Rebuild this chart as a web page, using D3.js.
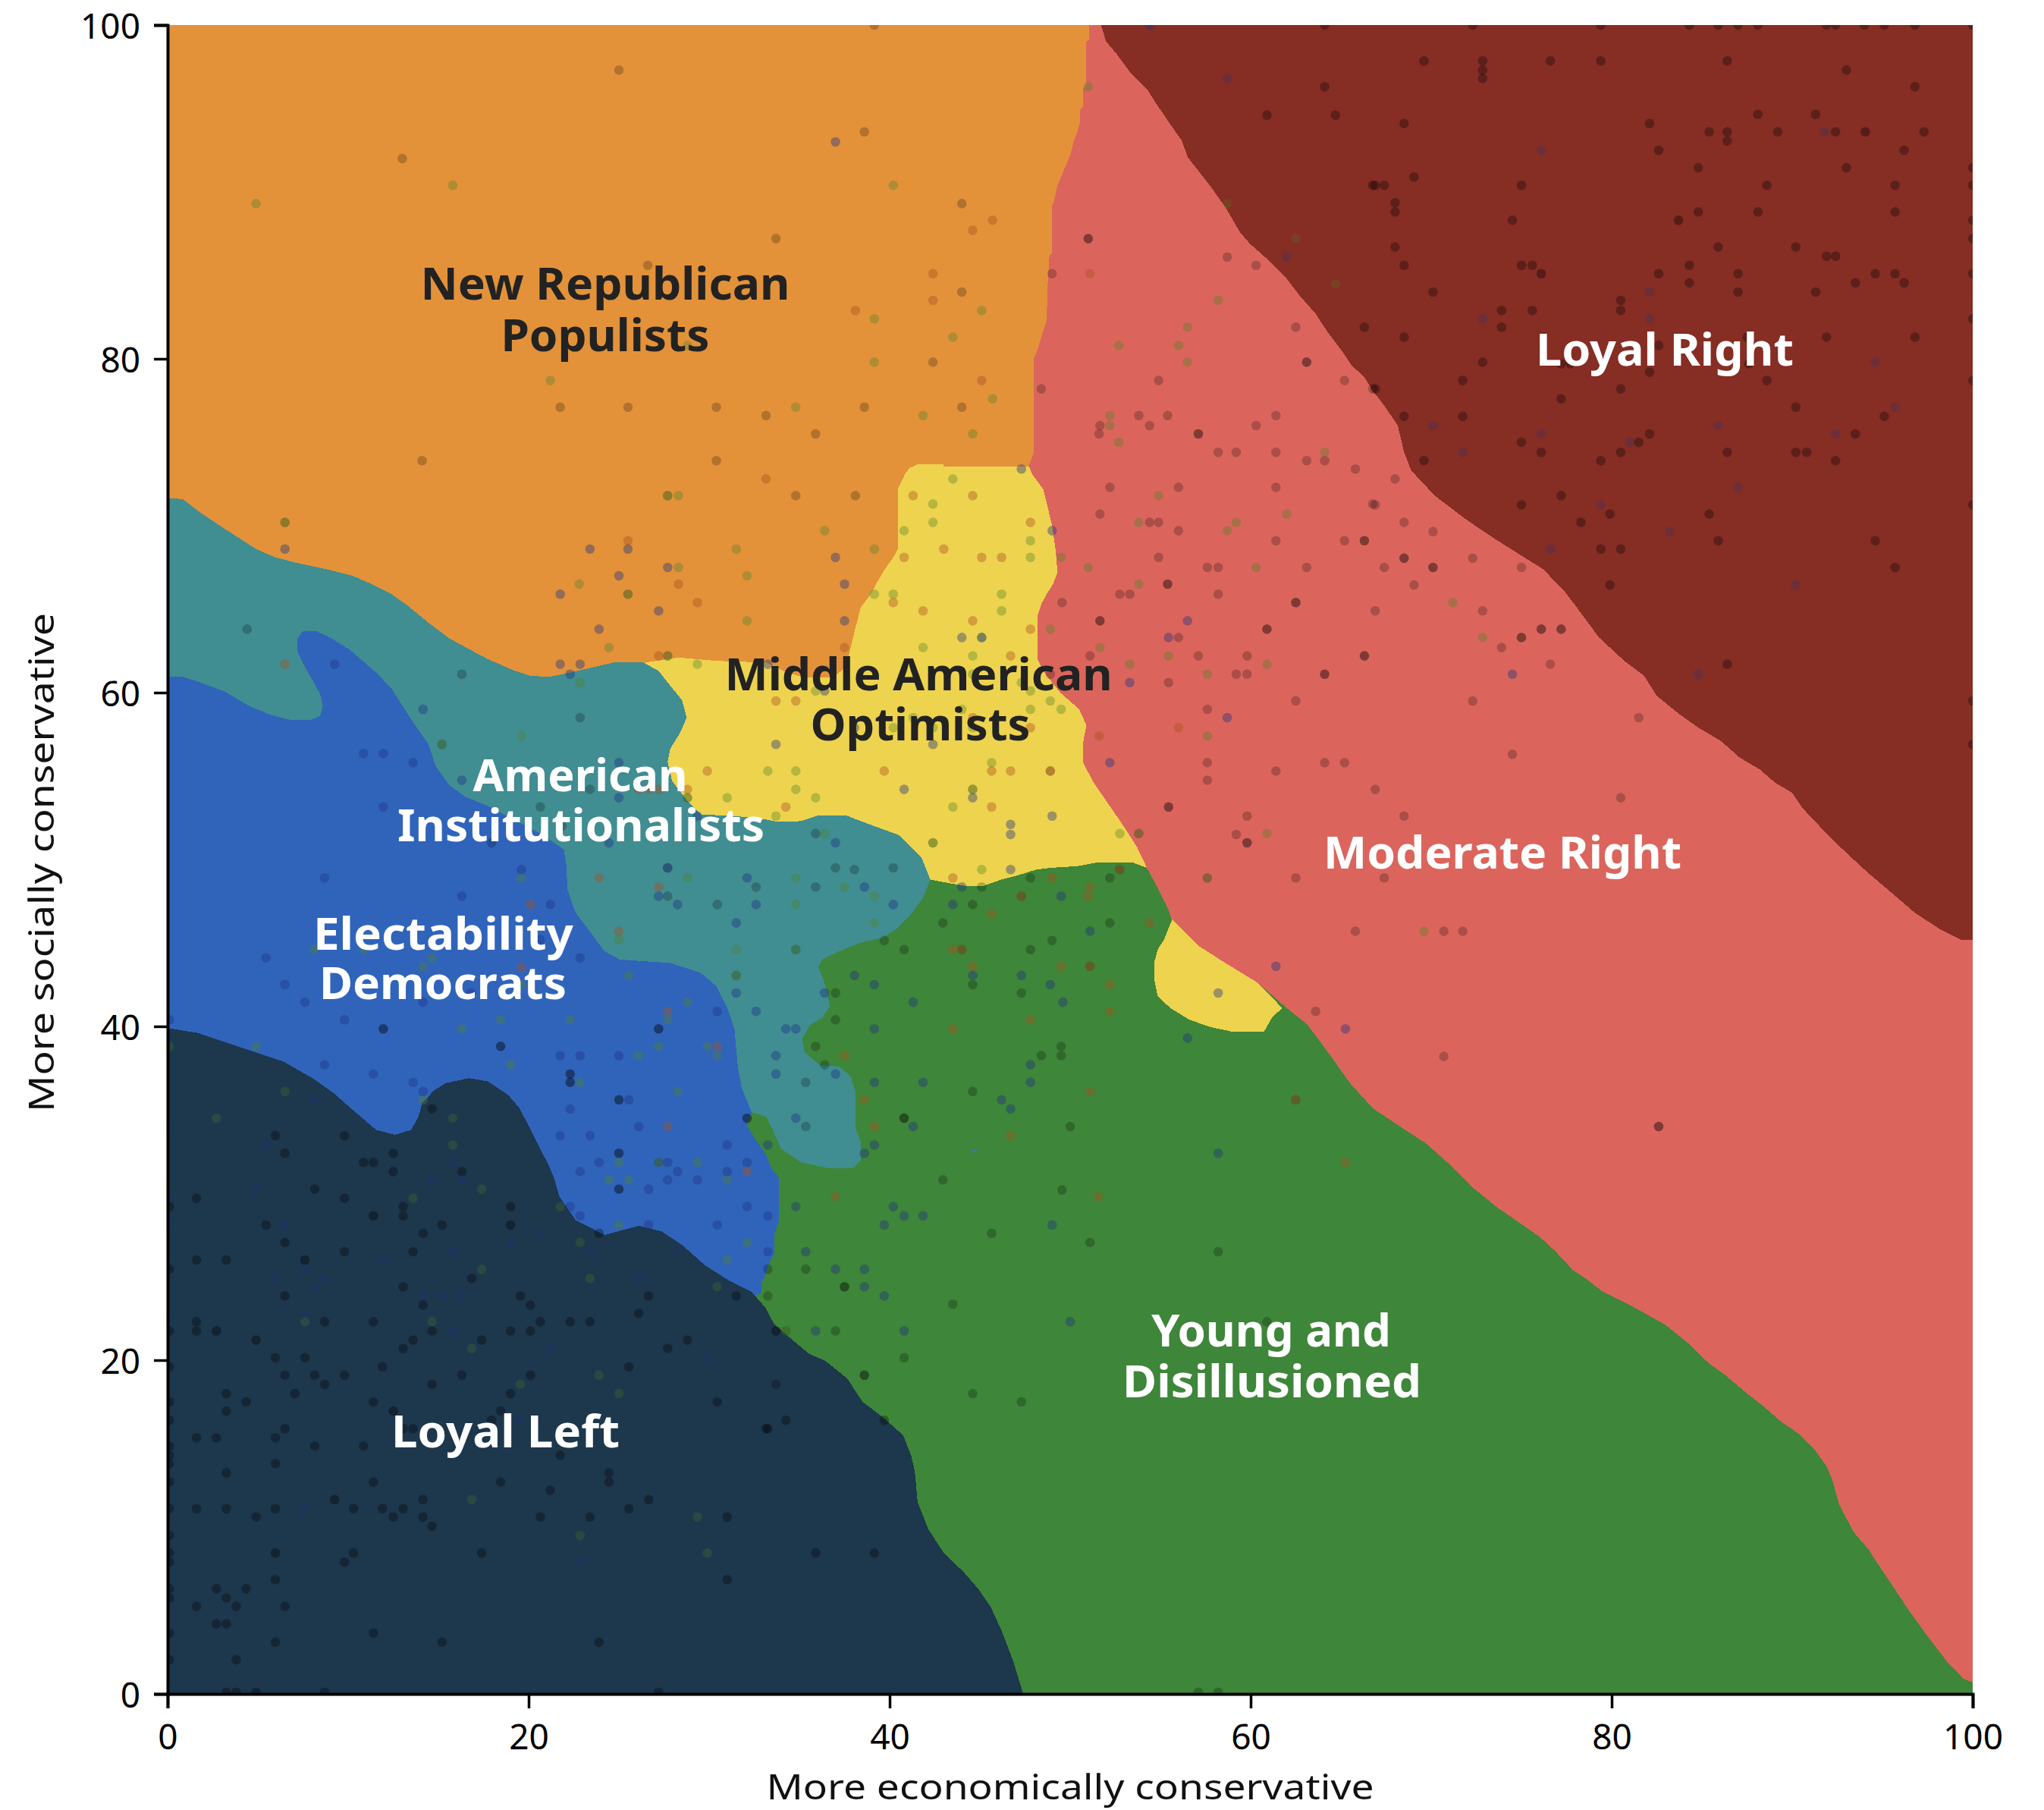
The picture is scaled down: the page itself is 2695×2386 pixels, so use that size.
<!DOCTYPE html>
<html><head><meta charset="utf-8">
<script src="https://d3js.org/d3.v7.min.js"></script>
<style>html,body{margin:0;background:#fff}svg{display:block}</style></head><body>
<svg id="chart" width="2695" height="2386"></svg>
<script>
const xTicks=[0,20,40,60,80,100], yTicks=[0,20,40,60,80,100];
const xTitle="More economically conservative", yTitle="More socially conservative";

/* region outlines, in axis units; later regions lie over earlier ones */
const loyalRight=[[51.7,100],[52,99],[52.55,98.3],[53.3,97.2],[54.3,96.1],[54.7,95.4],[55.45,94.2],[56.2,93.05],[56.5,92.1],[57.15,91.2],[57.8,90.3],[58.65,89],[59.4,87.6],[59.95,86.9],[61,85.9],[62,84.8],[62.7,83.8],[63.6,82.7],[64.2,81.7],[65.1,80.4],[65.6,79.6],[66.3,78.9],[66.76,78.1],[67.4,77.2],[68.15,76],[68.5,74.4],[68.9,73.3],[70.2,71.8],[71.9,70.4],[73.4,69.3],[75.3,68],[76.2,67.4],[77.4,66.05],[78,65.2],[79.3,63.3],[80.7,61.9],[81.8,61],[82.5,59.8],[83.7,58.75],[84.8,57.9],[86.05,57.1],[87.1,56.1],[88.2,55.4],[89.05,54.6],[90,54],[90.55,53.1],[91.6,51.9],[92.9,50.5],[94.2,49.2],[95.3,48.2],[96.8,46.8],[98.3,45.75],[99.35,45.2],[100,45.2],[100,100]];
const populists=[[0,100],[51.05,100],[51.05,99.1],[50.9,99],[50.9,96.4],[50.7,96.2],[50.7,95.1],[50.55,94.9],[50.55,94.2],[50.4,93.6],[50.2,93.05],[50,92.2],[49.65,91.3],[49.3,90.4],[49.1,89.45],[49,89.2],[49,86.3],[48.85,86.2],[48.75,84.35],[48.7,82.3],[48.4,81.3],[48.15,80.4],[48,80.05],[48,74.4],[47.7,73.6],[45,60],[0,60]];
const optimists=[[41.6,73.7],[43,73.7],[43,73.55],[47.7,73.55],[47.95,73],[48.5,72.2],[48.8,70.9],[49,70],[49.2,68.5],[49.3,67.2],[49.05,66.5],[48.7,65.9],[48.4,65.3],[48.2,64.65],[48.2,62],[48.5,61.3],[49.45,60],[50.5,59],[50.9,58.05],[50.7,56.9],[50.7,55.85],[51.25,54.7],[52,53.5],[52.9,52.1],[53.7,50.75],[54.25,49.5],[50,46],[38,46],[28,50],[26.45,61.8],[28.3,62.1],[30.4,61.9],[33.15,61.8],[34.3,61.2],[35.3,60.9],[36.9,60.9],[37.5,61.5],[37.75,62.3],[38.1,63.85],[38.4,65.1],[38.95,65.9],[39.35,66.7],[39.8,67.5],[40.2,68.1],[40.45,68.6],[40.45,72.2],[40.6,72.5],[40.85,73.1],[41.1,73.45]];
const disillusioned=[[100,0],[100,0.7],[99.5,0.9],[98.6,1.9],[97.4,3.6],[96.4,5.1],[95.3,6.9],[94.2,8.7],[93.4,9.7],[92.6,11.35],[92.2,12.9],[91.9,13.65],[91.3,14.55],[90.35,15.6],[89.4,16.3],[88.45,17.2],[87.5,18],[86.3,19.1],[85.4,19.8],[84.2,21.05],[83,22.1],[81.85,22.8],[80.65,23.5],[79.5,24.1],[78.55,24.9],[77.85,25.4],[76.9,26.5],[76,27.4],[74.8,28.3],[73.6,29.2],[72.3,30.35],[71,31.75],[69.7,33],[68.2,34.05],[66.76,35.1],[65.5,36.6],[64.45,38.2],[63.15,40.1],[62,41.1],[60.4,42.6],[58.45,43.9],[57.15,44.8],[55.65,46.3],[55.45,47],[54.8,48.4],[54.25,49.5],[53.5,49.8],[51.4,49.8],[50.4,49.6],[48.9,49.5],[48.15,49.4],[47.1,49.05],[46.2,48.8],[45.15,48.4],[44.3,48.4],[43.2,48.6],[42.25,48.8],[40,47],[33,44],[30,30],[30,0]];
const optimistsSmall=[[55.65,46.4],[57.15,44.8],[58.45,43.9],[60.4,42.6],[61.75,41.1],[61.2,40.55],[60.75,39.7],[58.9,39.7],[57.8,39.95],[56.6,40.4],[55.55,41.1],[54.85,41.8],[54.65,42.85],[54.65,43.8],[54.85,44.6],[55.2,45.2]];
const institutionalists=[[0,71.65],[0.83,71.6],[1.8,70.8],[2.75,70.1],[3.9,69.3],[4.9,68.6],[5.97,68.1],[7.05,67.8],[8.75,67.4],[10.25,67],[11.3,66.5],[12.4,65.9],[13.25,65.25],[14.55,64.1],[15.6,63.25],[16.7,62.6],[17.75,62],[19.25,61.3],[20.1,61],[21.2,60.95],[22.3,61.2],[23.1,61.4],[24.7,61.8],[26.35,61.8],[27.2,61.3],[27.85,60.4],[28.5,59.55],[28.75,58.5],[28.4,57.6],[27.85,56.65],[27.7,55.85],[27.95,54.7],[28.8,53.5],[29.55,52.7],[31.5,52.6],[33.15,52.4],[33.8,52.25],[35.1,52.3],[36.05,52.65],[37.55,52.65],[39.15,52],[40.55,51.45],[41.75,50.15],[42.25,48.8],[41.85,47.7],[41.1,46.6],[40.45,45.9],[39.6,45.3],[38.5,45.05],[37.2,44.5],[36.25,44],[36.05,43.55],[36.4,42.6],[36.7,41.2],[36.25,40.5],[35.6,40.1],[35.15,39.25],[35.3,38.45],[36.15,37.65],[37.2,37.6],[37.85,37],[38.1,36.1],[38.1,33.9],[38.4,33.1],[38.4,31.95],[37.95,31.5],[36.6,31.5],[35.1,31.85],[34,32.65],[33.6,33.6],[33.15,34.6],[32.35,34.85],[28,38],[18,45],[0,55]];
const electability=[[0,60.95],[0.83,60.95],[1.7,60.65],[3.2,60.05],[4.5,59.2],[5.75,58.65],[6.85,58.35],[7.9,58.35],[8.45,58.6],[8.6,59.2],[8.45,59.9],[8,60.8],[7.5,61.75],[7.2,62.45],[7.2,63.25],[7.5,63.7],[8.2,63.7],[9,63.3],[10.05,62.6],[10.7,62],[11.55,61.2],[12.4,60.25],[12.95,59.3],[13.8,57.9],[14.45,56.9],[14.85,55.6],[15.6,54.45],[16.5,53.75],[17.75,53.2],[19.25,52.35],[20.65,51.55],[21.95,50.6],[22.1,49.6],[22.15,48.2],[22.6,46.8],[23.35,45.75],[24.2,44.5],[25.05,44],[27.85,43.8],[29.55,43.2],[30.4,42.4],[31.05,41],[31.4,39.85],[31.6,37.5],[31.8,36.35],[32.35,34.85],[32.1,34.05],[32.65,33.1],[33.15,32.3],[33.45,31.5],[33.85,30.95],[33.85,28.3],[33.6,27.5],[33.6,26.4],[33.25,25.6],[33.1,25],[32.9,24.7],[32.9,24],[20,20],[0,30]];
const loyalLeft=[[0,39.9],[1.7,39.6],[3.6,38.9],[6.4,37.9],[8.1,36.85],[9.2,36],[10.25,35],[11.55,33.8],[12.6,33.5],[13.5,33.8],[13.9,34.6],[14.1,35.4],[14.75,36.15],[15.4,36.6],[16.7,36.9],[17.75,36.7],[18.85,35.9],[19.5,35.1],[20.2,33.6],[20.65,32.65],[21.1,31.7],[21.4,30.95],[21.7,29.8],[22.6,28.4],[24.2,27.5],[26.1,28.05],[27.4,27.7],[28.5,26.9],[29.75,25.7],[31.05,24.8],[32.35,24.1],[33.15,23.1],[33.6,22.15],[34.85,21],[35.5,20.4],[36.45,19.95],[37.65,18.9],[38.5,17.5],[39.6,16.6],[40.75,15.5],[41.2,14.25],[41.4,13.3],[41.55,11.5],[42.15,9.85],[43,8.45],[44.1,7.3],[44.95,6.25],[45.6,5.2],[46.2,3.8],[46.85,1.95],[47.4,0],[0,0]];
const speck=[[44.55,32.6],[44.85,32.6],[44.85,32.45],[44.55,32.45]];

const dotsK=[[25,97.3],[13,92],[26.6,85.6],[21.75,77.1],[25.5,77.1],[30.4,77.1],[33.15,76.6],[14.1,73.9],[30.4,73.9],[27.7,71.8],[6.5,70.2],[25.5,65.9],[39.15,100],[38.6,93.6],[44,89.3],[33.7,87.2],[58.7,86.1],[60.3,85.6],[49,85.1],[44,84],[62.5,81.9],[42.4,79.8],[54.9,78.7],[65.2,78.7],[48.4,78.2],[66.76,78.2],[38.6,77.1],[44,77.1],[53.8,76.6],[55.4,76.6],[61.4,76.6],[51.65,76],[54.4,76],[60.3,76],[35.9,75.5],[51.6,75.5],[58.2,74.4],[59.2,74.4],[61.4,74.4],[63.1,73.9],[64.1,73.9],[65.8,73.4],[34.8,71.8],[38.1,71.8],[52.2,72.3],[56,72.3],[61.4,72.3],[51.65,70.7],[66.76,71.3],[54.4,70.2],[54.9,70.2],[56,69.7],[61.4,69.1],[65.2,69.1],[54.9,68.1],[57.6,67.5],[58.2,67.5],[63.1,67.5],[68,72.8],[66.9,71.25],[68.5,70.2],[70.1,69.65],[72.3,68.05],[67.4,67.5],[75,67.5],[69.05,66.45],[66.9,64.9],[72.85,64.9],[73.9,62.7],[76.6,61.7],[72.3,59.5],[81.5,58.5],[74.5,56.3],[66.9,54.2],[80.5,53.7],[68.5,52.6],[67.4,48.9],[70.7,45.7],[71.75,45.7],[70.7,38.2],[52.75,65.9],[53.3,65.9],[58.2,65.9],[49.55,65.4],[56,63.3],[51.1,62.2],[57.1,62.2],[59.8,62.2],[48.9,61.1],[59.2,61.1],[59.8,61.1],[55.45,60.6],[62.5,59.5],[57.6,59],[57.6,55.8],[64.1,55.8],[65.2,55.8],[61.4,55.3],[48.9,55.3],[57.6,54.75],[44.6,54.2],[59.8,52.6],[53.8,51.55],[59.2,51.5],[35.9,51.55],[42.4,51],[37,49.5],[38.05,49.4],[40.2,49.5],[52.75,49.4],[47.8,48.9],[52.2,48.9],[57.6,48.9],[62.5,48.9],[35.9,48.35],[45.1,48.35],[47.3,47.8],[44.6,47.3],[42.95,46.2],[52.2,46.2],[65.8,45.7],[39.7,45.15],[49,45.15],[34.8,44.6],[40.8,44.6],[44,44.6],[47.8,44.6],[51.1,43.6],[44.6,42.5],[37,42],[47.3,42],[63.6,40.9],[37,40.4],[35.9,38.8],[49.5,38.8],[48.4,38.25],[49.5,38.25],[36.4,37.7],[35.35,36.65],[44.6,36.1],[62.5,35.6],[35.35,34],[50,34],[42.95,30.8],[49.55,30.2],[45.65,27.6],[51.1,27.05],[58.2,26.5],[33.25,25.45],[35.35,25.45],[33.25,23.85],[43.5,23.35],[60.9,22.3],[34.25,21.75],[37,21.75],[40.8,20.15],[33.7,18.55],[44.6,18],[47.3,17.5],[57.1,0.1],[58.2,0.1],[4.4,63.8],[27.7,62.2],[16.3,61.1],[22.85,58.5],[15.2,56.9],[20.65,53.15],[23.4,54.2],[17.95,51],[21.85,52],[27.7,49.5],[32.6,48.35],[27.7,47.8],[30.45,47.3],[31.5,43.05],[28.8,53.7],[27.2,31.85]];
const dotsKK=[[51,87.2],[63.1,79.8],[57.1,75.5],[66.3,69.1],[55.4,66.5],[75,63.3],[76.1,63.8],[77.2,63.8],[82.6,34],[62.5,65.4],[51.65,64.3],[60.9,63.8],[66.3,62.2],[64.1,61.1],[55.45,53.15],[59.8,51],[40.8,34.5],[37.5,24.4],[33.7,21.75],[38.6,19.1],[94.05,93.6],[83.7,88.3],[76.1,85.1],[11.4,28.65],[19,28.1],[7.6,26],[2.7,21.75],[4.9,21.2],[12.5,16.95],[9.25,11.65],[5.97,8.45],[11.95,39.85],[27.2,39.85],[18.45,38.8],[22.3,37.15],[22.3,36.65],[25,35.6],[32.1,34.5],[25,32.4],[25,30.25],[68.5,68.05],[70.1,67.5]];
const dotsD=[[64.1,100],[64.1,96.3],[60.9,94.6],[64.7,94.6],[66.76,90.4],[66.3,81.9],[72.3,100],[79.4,100],[84.3,100],[85.9,100],[87,100],[88.1,100],[91.9,100],[92.4,100],[94,100],[95.1,100],[96.8,100],[100,100],[69.6,97.85],[72.85,97.85],[76.6,97.85],[79.4,97.85],[86.4,97.85],[72.85,97.3],[72.85,96.8],[93,97.3],[96.8,96.3],[68.5,94.1],[82.1,94.1],[88.1,94.65],[91.3,94.65],[85.4,93.6],[86.4,93.6],[89.2,93.6],[92.4,93.6],[97.3,93.6],[86.4,93.05],[82.6,92.5],[96.2,92.5],[84.8,91.45],[93,91.45],[100,91.45],[69.05,90.9],[66.9,90.4],[67.4,90.4],[75,90.4],[88.6,90.4],[95.7,90.4],[100,90.4],[68,89.35],[68,88.8],[84.8,88.8],[88.1,88.8],[95.7,88.8],[74.5,88.3],[100,88.3],[100,87.2],[68,86.7],[85.9,86.7],[90.2,86.7],[91.9,86.15],[92.4,86.15],[68.5,85.6],[75,85.6],[75.6,85.6],[84.3,85.6],[82.6,85.1],[87,85.1],[94.6,85.1],[95.7,85.1],[100,85.1],[84.3,84.55],[93.5,84.55],[96.2,84.55],[70.1,84],[87,84],[91.3,84],[80.5,83.5],[80.5,82.9],[73.9,82.9],[75.6,82.9],[100,82.4],[73.9,81.9],[68.5,81.3],[91.9,81.3],[96.8,81.3],[87.5,81.3],[82.6,80.8],[72.85,79.8],[77.2,79.7],[77.7,79.7],[87.6,79.7],[71.75,78.7],[82.1,79.2],[88.6,78.7],[100,78.7],[66.9,78.2],[80.5,78.2],[77.2,77.6],[90.2,77.1],[68.5,76.55],[71.75,76.55],[95.1,76.55],[82.1,75.5],[93.5,75.5],[75,75],[81.5,75],[76.1,74.4],[80.5,74.4],[86.4,74.4],[90.2,74.4],[90.8,74.4],[69.6,73.9],[79.4,73.9],[92.4,73.9],[77.2,71.8],[75,71.25],[100,71.25],[79.9,70.7],[85.4,70.7],[78.3,70.2],[85.9,69.1],[94.6,69.1],[79.4,68.6],[80.5,68.6],[95.7,67.5],[79.9,66.45],[86.4,61.7],[100,59.5],[100,56.9],[35.9,8.45],[39.15,8.45],[34.25,16.4],[39.7,16.4],[33.25,15.9],[14.65,35.05],[5.97,33.45],[9.8,33.45],[6.5,32.4],[12.5,32.4],[10.85,31.85],[11.4,31.85],[12.5,31.3],[16.3,31.3],[8.15,30.25],[1.6,29.7],[9.8,29.7],[13.05,29.2],[19,29.2],[0.1,29.2],[13.05,28.65],[5.45,28.1],[15.2,28.1],[14.15,27.6],[6.5,27.05],[9.8,26.5],[13.6,26.5],[1.6,26],[3.25,26],[0.1,25.45],[16.85,24.9],[13.05,24.4],[6.5,23.85],[19.55,23.85],[26.65,23.85],[31.5,23.85],[14.15,23.3],[20.1,23.3],[26.1,22.8],[1.6,22.3],[8.7,22.3],[11.4,22.3],[20.65,22.3],[22.3,22.3],[23.4,22.3],[1.6,21.75],[14.65,21.75],[19,21.75],[20.1,21.75],[0.1,21.75],[13.6,21.2],[17.4,21.2],[28.8,21.2],[13.05,20.7],[27.7,20.7],[5.97,20.15],[7.6,20.15],[0.1,19.6],[11.9,19.6],[25.55,19.6],[6.5,19.1],[8.15,19.1],[9.8,19.1],[16.3,19.1],[20.1,19.1],[8.7,18.55],[14.65,18.55],[3.25,18],[7.05,18],[19,18],[4.35,17.5],[11.4,17.5],[30.45,17.5],[0.1,17.5],[3.25,16.95],[18.45,16.95],[0.1,16.4],[17.95,16.4],[6.5,15.9],[13.05,15.9],[13.6,15.9],[33.15,15.9],[1.6,15.35],[2.7,15.35],[5.97,15.35],[0.1,14.85],[8.15,14.85],[10.85,14.85],[21.75,14.3],[0.1,14.3],[0.1,13.8],[5.97,13.8],[3.25,13.25],[24.45,13.25],[0.1,12.7],[11.4,12.7],[18.45,12.7],[24.45,12.7],[21.2,12.2],[14.15,11.65],[26.65,11.65],[0.1,11.1],[1.6,11.1],[3.25,11.1],[5.97,11.1],[10.3,11.1],[11.9,11.1],[13.05,11.1],[25.55,11.1],[4.9,10.6],[12.5,10.6],[14.15,10.6],[20.65,10.6],[23.4,10.6],[31,10.6],[14.65,10.05],[0.1,9.5],[0.1,8.45],[10.3,8.45],[17.4,8.45],[0.1,7.9],[9.8,7.9],[5.97,6.85],[31,6.85],[2.7,6.3],[4.35,6.3],[0.1,6.3],[3.25,5.75],[0.1,5.75],[1.6,5.25],[3.8,5.25],[6.5,5.25],[2.7,4.2],[3.25,4.2],[0.1,3.65],[11.4,3.65],[5.97,3.1],[15.2,3.1],[23.9,3.1],[3.8,2.05],[0.1,2.05],[3.25,0.1],[3.8,0.1],[4.9,0.1],[8.7,0.1],[27.2,0.1],[23.9,27.6]];
const dotsB=[[25.5,69.1],[28.3,66.5],[33.15,72.8],[44.6,87.7],[45.7,88.3],[42.4,85.1],[51.1,85.1],[42.4,83.5],[38.1,82.9],[45.1,78.7],[41.3,71.8],[44.6,71.8],[47.8,70.2],[43,68.6],[40.8,68.1],[45.1,68.1],[46.2,68.1],[29.35,65.4],[40.2,65.4],[41.85,64.9],[44.6,64.3],[47.8,63.8],[37.5,62.7],[46.7,62.2],[33.7,59.5],[34.8,59.5],[44.6,58.5],[47.8,57.9],[56,57.9],[51.6,57.4],[39.7,55.3],[45.65,55.3],[46.7,55.3],[48.9,55.3],[34.25,53.15],[45.65,53.15],[52.75,49.4],[43.5,48.9],[49,48.9],[51.1,48.35],[47.3,47.8],[51,47.8],[45.65,46.75],[54.4,46.2],[43.5,44.6],[44,44.6],[44.6,43.6],[49.5,43.6],[51.1,43.6],[52.2,42.5],[52.2,40.9],[47.8,40.4],[43.5,39.85],[37.5,38.25],[51.1,36.1],[38.6,35.6],[62.5,35.6],[39.15,34],[46.7,33.45],[65.25,31.85],[37,29.8],[51.55,29.8],[27.2,62.2],[6.5,61.7],[29.9,55.3],[28.8,54.2],[26.1,54.2],[26.65,54.2],[27.2,54.2],[23.9,48.9],[27.2,48.35],[20.1,47.3],[25,45.7],[19.6,43.55],[27.7,40.9],[30.45,38.8],[27.7,34],[32.1,31.3]];
const dotsG=[[15.8,90.4],[4.9,89.3],[28.8,80.8],[21.2,78.7],[27.7,71.8],[28.3,71.8],[6.5,70.2],[31.5,68.6],[28.3,67.5],[32.1,67],[22.8,66.5],[25.5,65.9],[40.2,90.4],[51,96.3],[58.7,89.3],[62.5,87.2],[64.7,84.5],[45.1,82.9],[58.2,83.5],[39.15,82.4],[56.5,81.9],[43.5,81.3],[52.7,80.8],[56,80.8],[39.15,79.8],[56.5,79.8],[45.7,77.6],[34.8,77.1],[41.85,76.6],[52.2,76.6],[52.2,76],[44.6,75.5],[52.7,75],[64.1,74.4],[43.5,72.8],[54.9,71.8],[42.4,71.3],[62,70.7],[42.4,70.2],[53.8,70.2],[59.2,70.2],[36.4,69.7],[40.8,69.7],[58.7,69.7],[47.8,69.1],[39.15,68.6],[47.8,68.1],[49.5,68.1],[51,67.5],[60.3,67.5],[53.8,66.5],[71.2,65.4],[72.85,63.3],[69.6,45.7],[39.15,65.9],[40.2,65.9],[46.2,65.9],[46.2,64.9],[48.9,63.8],[45.1,63.3],[41.85,62.7],[51.65,62.7],[44.6,62.2],[55.45,62.2],[53.3,61.7],[60.9,61.7],[44.6,61.1],[57.6,61.1],[47.3,60.6],[35.9,60.1],[47.8,60.1],[48.9,59.5],[44,59],[47.8,59],[49.5,59],[41.3,58.5],[40.2,57.9],[42.4,57.9],[44.6,57.9],[57.6,57.4],[45.65,55.8],[33.25,55.3],[34.8,55.3],[34.8,54.2],[44.6,54.2],[35.9,53.7],[43.5,53.15],[33.7,52.6],[52.75,51.55],[53.8,51.55],[60.9,51.55],[36.4,51.55],[42.4,51],[45.1,49.4],[34.8,48.9],[57.6,48.9],[37.5,48.35],[39.15,47.8],[34.8,47.3],[39.15,46.2],[34.8,44.6],[32.1,64.3],[24.45,62.7],[27.7,62.2],[29.35,61.7],[22.85,60.6],[19.6,57.4],[15.2,56.9],[28.8,53.7],[31,53.7],[19.6,48.9],[28.8,48.9],[25,45.2],[8.1,44.6],[10.85,44.6],[14.65,44.1],[31.5,44.6],[14.15,43.55],[25.55,43.05],[31.5,43.05],[19.6,42.5],[28.8,41.45],[18.45,40.4],[22.3,40.4],[27.7,40.4],[16.3,39.85],[0.1,38.8],[4.9,38.8],[27.2,38.8],[29.9,38.8],[26.1,38.25],[30.45,38.25],[19,37.7],[22.85,36.65],[28.25,36.1],[6.5,36.1],[14.15,35.6],[2.7,34.5],[15.8,34.5],[15.8,32.9],[25,31.85],[27.2,31.85],[29.35,31.85],[24.45,30.8],[25.55,30.8],[31,30.8],[17.4,30.25],[13.6,29.7],[21.75,29.2],[25,28.1],[22.85,27.05],[32.1,27.05],[31,26],[17.4,25.45],[23.4,24.9],[30.45,24.4],[7.6,22.3],[14.65,22.3],[16.85,20.7],[23.9,19.1],[19.55,18.55],[25,18],[16.85,11.65],[29.35,10.6],[22.85,9.5],[29.9,8.45],[34.25,21.75]];
const dotsU=[[6.5,68.6],[23.4,68.6],[25.5,68.6],[25,67],[27.7,67.5],[21.75,65.9],[54.4,100],[58.7,96.8],[37,93],[62,86.1],[47.3,73.4],[49,69.7],[37,68.1],[37.5,66.5],[91.8,93.6],[76.1,92.5],[82.1,84],[72.85,82.4],[82.1,82.4],[94.6,79.8],[95.7,77.1],[70.1,76],[85.9,76],[76.1,75.5],[92.4,75.5],[81,75],[71.75,74.4],[87,72.3],[79.4,71.25],[83.2,69.65],[76.6,68.6],[90.2,66.45],[74.5,61.1],[84.8,61.1],[37.5,64.3],[56.5,64.3],[44,63.3],[45.1,63.3],[55.45,63.3],[33.25,61.7],[53.3,60.6],[36.4,60.1],[58.7,58.5],[38.05,57.9],[33.7,56.9],[42.4,56.9],[52.2,55.8],[40.8,54.2],[44.6,53.7],[49,52.6],[46.7,52.1],[46.7,51.5],[37,51],[46.7,49.4],[38.6,48.35],[44,48.35],[49.5,47.8],[40.2,47.3],[43.5,47.3],[51.1,45.7],[61.4,43.6],[38.05,43.05],[44.6,43.05],[47.3,43.05],[39.15,42.5],[48.9,42.5],[36.4,42],[58.2,42],[41.3,41.45],[49.6,41.45],[34.25,39.85],[34.8,39.85],[39.15,39.85],[65.25,39.85],[56.5,39.3],[33.7,38.25],[47.8,37.7],[33.7,37.15],[37,37.15],[39.15,36.65],[41.85,36.65],[47.8,36.65],[46.2,35.6],[46.7,35.05],[34.8,34.5],[41.3,34],[33.25,32.9],[39.15,32.9],[38.6,32.4],[58.2,32.4],[34.8,29.2],[40.2,29.2],[40.8,28.65],[41.85,28.65],[33.25,28.65],[39.7,28.1],[49,28.1],[35.35,26.5],[33.25,26.5],[37,25.45],[38.6,25.45],[38.6,24.4],[39.7,23.85],[50,22.3],[35.9,21.75],[40.8,21.75],[27.2,64.9],[23.9,63.8],[9.25,61.7],[21.75,61.7],[22.85,61.7],[22.3,61.1],[14.15,59],[10.85,56.35],[11.95,56.35],[13.6,55.8],[25,55.8],[16.3,54.75],[25,53.7],[11.95,53.15],[29.35,52.6],[24.45,51],[27.7,49.5],[8.7,48.9],[19.6,49.4],[32.1,48.9],[16.3,47.8],[27.2,47.8],[21.2,47.3],[28.25,47.3],[32.6,47.3],[31.5,46.2],[20.65,45.2],[5.45,44.1],[22.85,44.1],[6.5,42.5],[16.8,42],[31.5,42],[7.6,41.45],[14.15,41.45],[30.45,40.9],[32.6,40.9],[0.1,40.4],[9.8,40.4],[21.75,38.25],[22.85,38.25],[25,38.25],[8.7,37.7],[11.4,37.15],[13.6,36.65],[14.15,36.1],[25.55,35.6],[8.1,35.6],[22.3,35.05],[21.75,33.45],[23.4,33.45],[26.1,34],[0.1,34],[31,32.9],[5.45,32.9],[23.9,31.85],[27.7,31.85],[32.1,31.85],[15.8,31.85],[22.85,31.3],[28.25,31.3],[31,31.3],[27.7,30.8],[29.35,30.8],[14.65,30.8],[16.3,30.8],[26.65,30.25],[4.9,30.25],[0.1,29.7],[22.3,29.2],[32.1,29.2],[22.85,28.65],[26.65,28.1],[30.45,28.1],[6.5,28.1],[0.1,28.1],[20.65,27.6],[19,27.05],[28.25,26.5],[15.8,26.5],[23.4,26.5],[11.9,26],[7.6,25.45],[5.97,24.9],[8.7,24.9],[26.1,24.9],[8.15,24.4],[14.15,23.85],[15.2,23.85],[16.3,23.85],[7.6,22.8],[0.1,22.3],[15.8,21.75],[21.2,20.7],[29.9,20.15],[19.55,16.4],[7.6,11.1],[22.85,7.9]];

const labelText=["New Republican","Populists","Loyal Right","Middle American","Optimists","American","Institutionalists","Electability","Democrats","Moderate Right","Young and","Disillusioned","Loyal Left"];
const labelX=[24.24,24.24,82.94,41.6,41.7,22.86,22.9,15.27,15.25,73.95,61.13,61.18,18.72];
const labelY=[83.55,80.45,79.6,60.14,57.14,54.1,51.1,44.6,41.64,49.45,20.82,17.77,14.77];
const labelWidth=[487,275,340,511,290,283,484,343,326,472,316,394,301];
const labelDark=[1,1,0,1,1,0,0,0,0,0,0,0,0];

const W=2695,H=2386,L=221,R=2601,T=33,B=2233;
const x=d3.scaleLinear().domain([0,100]).range([L,R]);
const y=d3.scaleLinear().domain([0,100]).range([B,T]);
const svg=d3.select("#chart");
const FONT="'Noto Sans',sans-serif";
svg.append("defs").append("clipPath").attr("id","plot").append("rect")
  .attr("x",L).attr("y",T).attr("width",R-L).attr("height",B-T);
const plot=svg.append("g").attr("clip-path","url(#plot)");
const poly=d3.line().x(d=>x(d[0])).y(d=>y(d[1])).curve(d3.curveLinearClosed);
plot.append("rect").attr("x",L).attr("y",T).attr("width",R-L).attr("height",B-T).attr("fill","#db655c");
[[loyalRight,"#862d24"],[populists,"#e3923a"],[optimists,"#eed34f"],[disillusioned,"#3e8639"],[optimistsSmall,"#eed34f"],[institutionalists,"#408d92"],[electability,"#3064bb"],[loyalLeft,"#1d374d"],[speck,"#3a7f9c"]]
 .forEach(([pts,c])=>plot.append("path").attr("d",poly(pts)).attr("fill",c).attr("shape-rendering","crispEdges"));
/* dots read fainter over the two darkest regions */
const inDark=d=>d3.polygonContains(loyalLeft,d)||d3.polygonContains(loyalRight,d);
[[dotsK,"rgba(0,0,0,.22)",1],[dotsD,"rgba(0,0,0,.3)",1],[dotsKK,"rgba(0,0,0,.42)",.85],[dotsB,"rgba(170,80,30,.4)",.7],[dotsG,"rgba(80,130,40,.36)",.65],[dotsU,"rgba(30,50,130,.4)",.6]]
 .forEach(([pts,c,faint])=>plot.append("g").selectAll("circle").data(pts).join("circle")
   .attr("cx",d=>x(d[0])).attr("cy",d=>y(d[1])).attr("r",6.3).attr("fill",c)
   .attr("opacity",d=>inDark(d)?faint:1));

const ax=svg.append("g").attr("transform",`translate(0,${B})`)
  .call(d3.axisBottom(x).tickValues(xTicks).tickSize(19).tickPadding(21));
const ay=svg.append("g").attr("transform",`translate(${L},0)`)
  .call(d3.axisLeft(y).tickValues(yTicks).tickSize(18).tickPadding(18));
[ax,ay].forEach(a=>{
  a.select(".domain").attr("stroke","#000").attr("stroke-width",4);
  a.selectAll(".tick line").attr("stroke","#000").attr("stroke-width",3.5);
  a.selectAll(".tick text").attr("fill","#000").attr("font-family",FONT).attr("font-size",46);
});
ay.selectAll(".tick text").attr("dy","0.38em");
svg.append("text").attr("x",(L+R)/2).attr("y",2372).attr("text-anchor","middle").attr("font-family",FONT).attr("font-size",46)
  .attr("fill","#111").attr("textLength",801).attr("lengthAdjust","spacingAndGlyphs").text(xTitle);
svg.append("text").attr("transform",`translate(71,${(T+B)/2+4}) rotate(-90)`).attr("text-anchor","middle").attr("font-family",FONT).attr("font-size",46)
  .attr("fill","#111").attr("textLength",658).attr("lengthAdjust","spacingAndGlyphs").text(yTitle);
svg.append("g").selectAll("text").data(labelText).join("text")
  .attr("x",(d,i)=>x(labelX[i])).attr("y",(d,i)=>y(labelY[i])).attr("text-anchor","middle")
  .attr("font-family",FONT).attr("font-weight",700).attr("font-size",60)
  .attr("fill",(d,i)=>labelDark[i]?"#222222":"#ffffff")
  .attr("textLength",(d,i)=>labelWidth[i]).attr("lengthAdjust","spacingAndGlyphs").text(d=>d);
</script></body></html>
